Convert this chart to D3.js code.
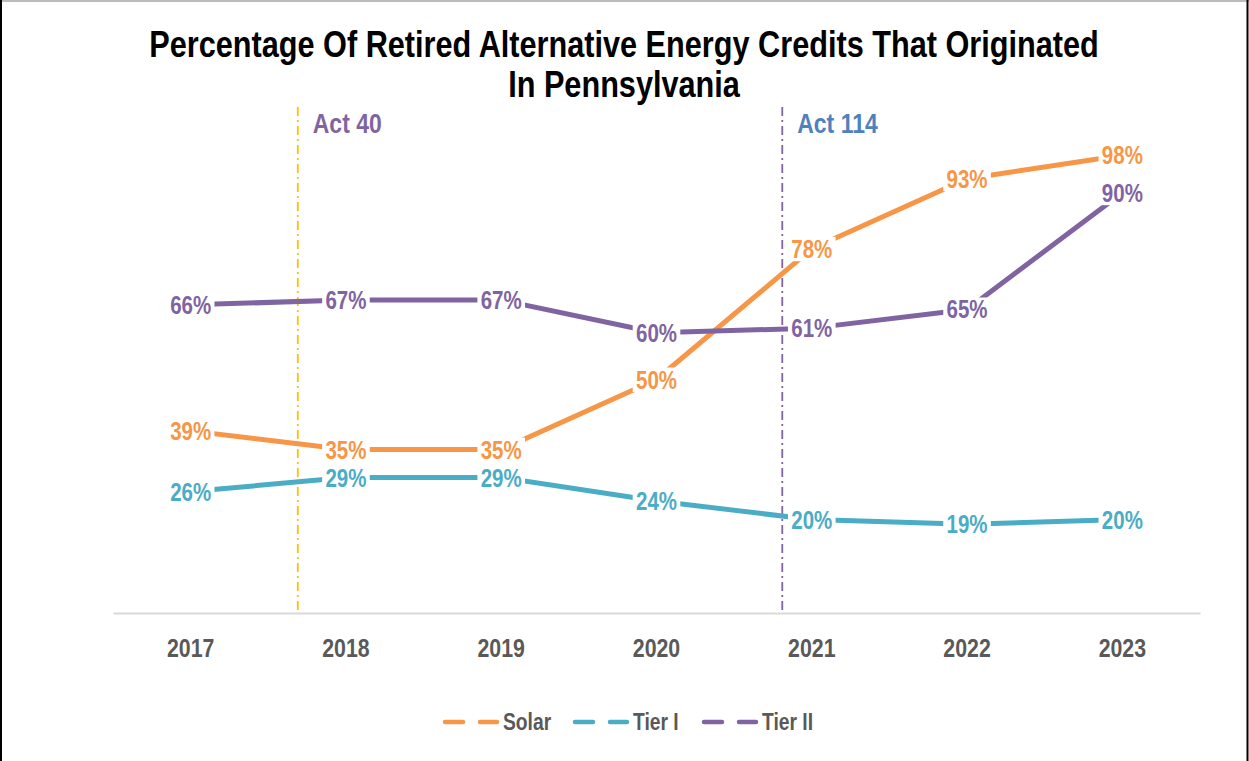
<!DOCTYPE html>
<html>
<head>
<meta charset="utf-8">
<script src="https://cdn.jsdelivr.net/npm/d3@7"></script>
<style>
  html, body { margin: 0; padding: 0; background: #fff; }
  svg { display: block; }
  text { font-family: "Liberation Sans", Arial, sans-serif; font-weight: bold; }
</style>
</head>
<body>
<svg id="chart" width="1249" height="761"></svg>
<script>
// ---- data ----
const years = ["2017", "2018", "2019", "2020", "2021", "2022", "2023"];
const solar = [39, 35, 35, 50, 78, 93, 98];
const tierI = [26, 29, 29, 24, 20, 19, 20];
const tierII = [66, 67, 67, 60, 61, 65, 90];
const seriesNames = ["Solar", "Tier I", "Tier II"];
const seriesColors = ["#F79646", "#4BACC6", "#8064A2"];
const eventLabels = ["Act 40", "Act 114"];
const eventPositions = [2017.69, 2020.81]; // fractional year of enactment
const eventLineColors = ["#FFC000", "#8064A2"];
const eventTextColors = ["#8064A2", "#4F81BD"];
const titleLines = ["Percentage Of Retired Alternative Energy Credits That Originated", "In Pennsylvania"];

const series = seriesNames.map((name, i) => ({
  name, color: seriesColors[i], values: [solar, tierI, tierII][i]
}));

const NARROW = 0.82; // horizontal condensing to mimic a narrow typeface
const svg = d3.select("#chart");
const W = 1249, H = 761;

function narrowText(parent, x, y, str, size, color, anchor) {
  return parent.append("text")
    .attr("transform", `translate(${x},${y}) scale(${NARROW},1)`)
    .attr("text-anchor", anchor || "start")
    .attr("fill", color)
    .style("font-size", size + "px")
    .text(str);
}

// frame
svg.append("line").attr("x1", 0).attr("x2", W).attr("y1", 1).attr("y2", 1).attr("stroke", "#A6A6A6").attr("stroke-width", 1.5);
svg.append("line").attr("x1", 1).attr("x2", 1).attr("y1", 0).attr("y2", H).attr("stroke", "#000").attr("stroke-width", 2);
svg.append("line").attr("x1", 1247.5).attr("x2", 1247.5).attr("y1", 0).attr("y2", H).attr("stroke", "#000").attr("stroke-width", 2);

const plotLeft = 113, plotRight = 1200, plotTop = 146, plotBottom = 613;

const x = d3.scaleBand().domain(years).range([plotLeft, plotRight]);
const xc = d => x(d) + x.bandwidth() / 2;
const xYear = d3.scaleLinear()
  .domain([+years[0], +years[years.length - 1]])
  .range([xc(years[0]), xc(years[years.length - 1])]);
const y = d3.scaleLinear().domain([0, 100]).range([plotBottom, plotTop]);

// title
titleLines.forEach((t, i) => narrowText(svg, 624, 57 + i * 40, t, 37.4, "#000", "middle"));

// x axis
const xAxis = d3.axisBottom(x).tickSize(0).tickPadding(0);
const gx = svg.append("g").attr("transform", `translate(0,${plotBottom})`).call(xAxis);
gx.select(".domain").attr("stroke", "#D9D9D9").attr("stroke-width", 2);
gx.selectAll(".tick text")
  .attr("dy", null).attr("y", null)
  .attr("transform", `translate(0,44) scale(${NARROW},1)`)
  .attr("fill", "#595959")
  .style("font-size", "26px")
  .style("font-family", "'Liberation Sans', Arial, sans-serif")
  .style("font-weight", "bold");

// event lines
eventLabels.forEach((lab, i) => {
  const ex = xYear(eventPositions[i]);
  svg.append("line")
    .attr("x1", ex).attr("x2", ex)
    .attr("y1", 107).attr("y2", plotBottom - 1)
    .attr("stroke", eventLineColors[i])
    .attr("stroke-width", 1.8)
    .attr("stroke-dasharray", "9,4,2,4");
  narrowText(svg, ex + 15, 133, lab, 28, eventTextColors[i]);
});

// lines
const line = d3.line().x((d, i) => xc(years[i])).y(d => y(d));
svg.append("g").selectAll("path").data(series).join("path")
  .attr("d", d => line(d.values))
  .attr("fill", "none")
  .attr("stroke", d => d.color)
  .attr("stroke-width", 5)
  .attr("stroke-linejoin", "round");

// data labels with white background
const labG = svg.append("g");
series.forEach(s => {
  s.values.forEach((v, i) => {
    const g = labG.append("g").attr("transform", `translate(${xc(years[i])},${y(v)}) scale(${NARROW},1)`);
    const t = g.append("text")
      .attr("text-anchor", "middle")
      .attr("dy", "0.36em")
      .attr("fill", s.color)
      .style("font-size", "25px")
      .text(v + "%");
    const bb = t.node().getBBox();
    g.insert("rect", "text")
      .attr("x", bb.x - 4).attr("y", bb.y + 2)
      .attr("width", bb.width + 8).attr("height", bb.height - 4)
      .attr("fill", "#fff");
  });
});

// legend
const legendX = [443, 573, 702];
const lg = svg.append("g");
series.forEach((s, i) => {
  const lx = legendX[i], ly = 722;
  lg.append("line")
    .attr("x1", lx + 2).attr("x2", lx + 54)
    .attr("y1", ly).attr("y2", ly)
    .attr("stroke", s.color).attr("stroke-width", 4.5)
    .attr("stroke-linecap", "round")
    .attr("stroke-dasharray", "18,17,20");
  narrowText(lg, lx + 60, ly + 8, s.name, 23.5, "#595959");
});
</script>
</body>
</html>
